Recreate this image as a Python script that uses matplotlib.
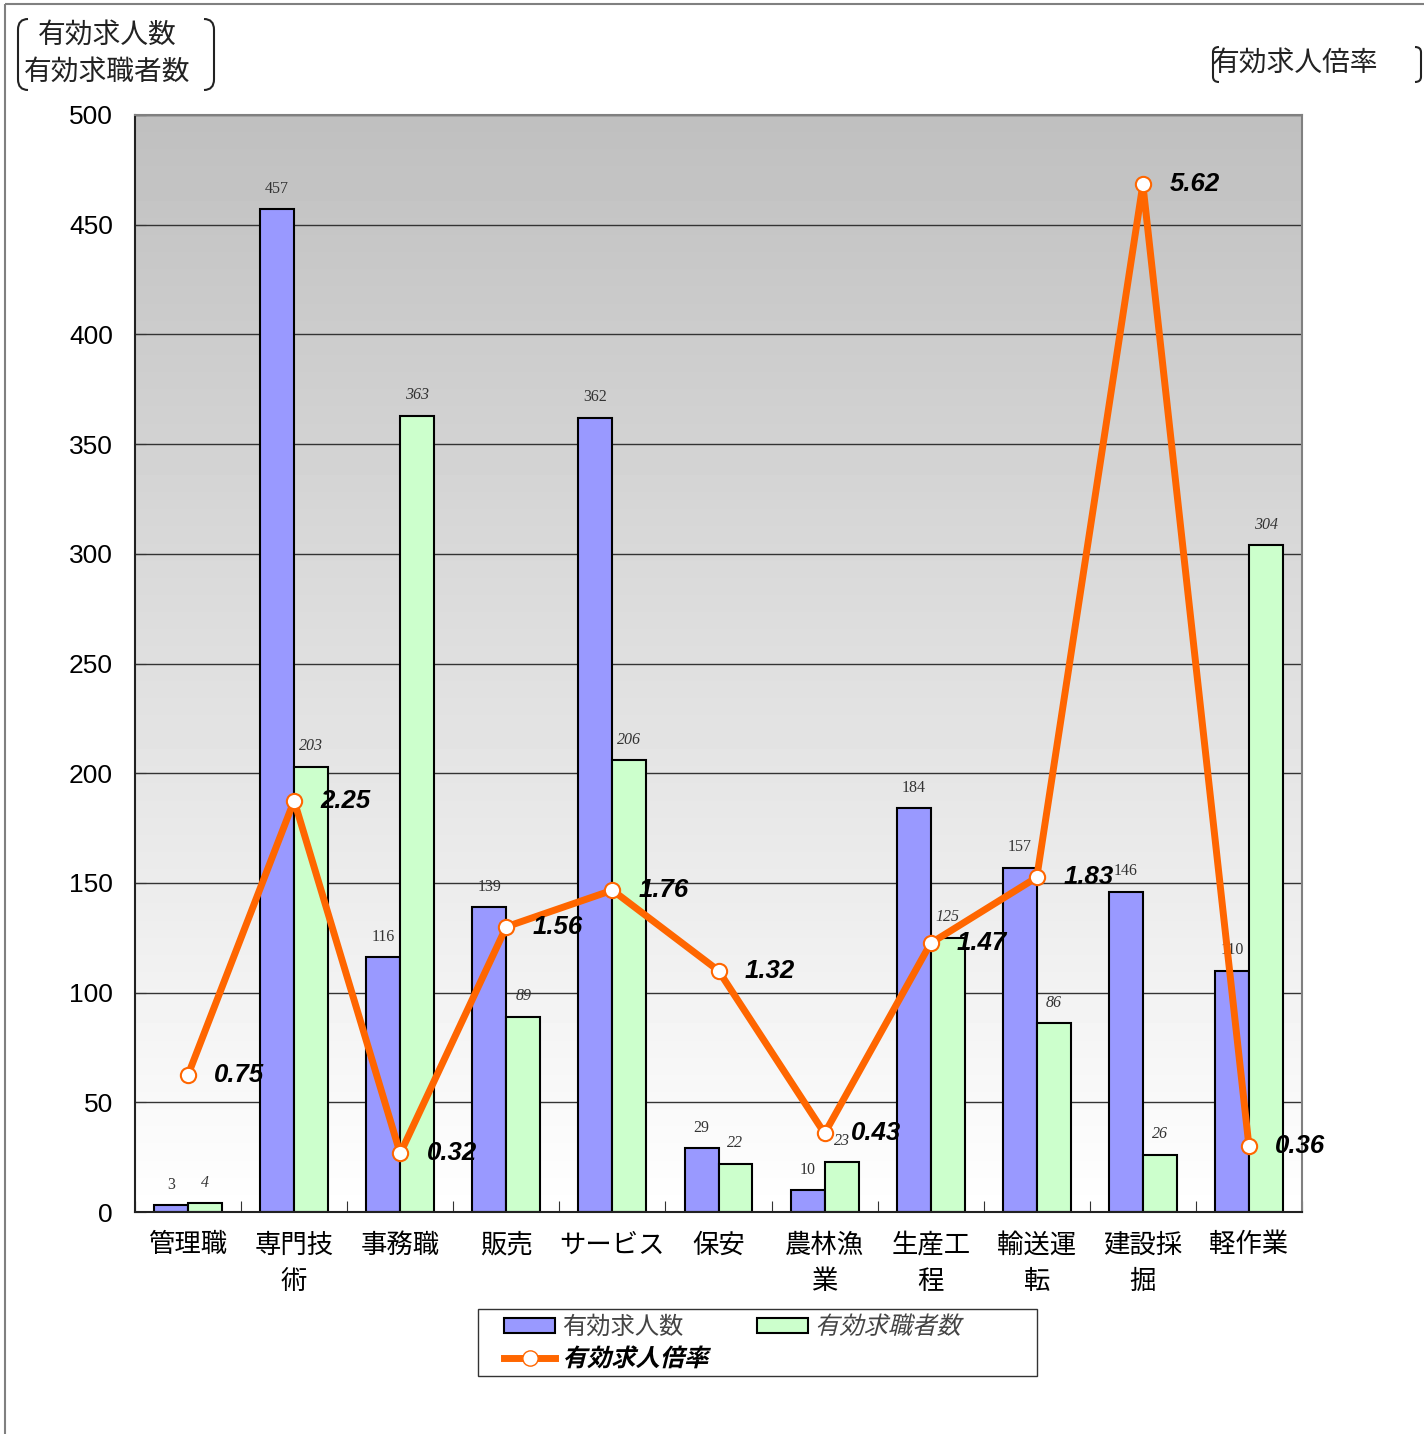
import numpy as np
import matplotlib
matplotlib.use("Agg")
import matplotlib.pyplot as plt
from matplotlib.patches import Patch, Rectangle, PathPatch
from matplotlib.lines import Line2D
from matplotlib.path import Path
from matplotlib.transforms import Affine2D
from matplotlib.patheffects import AbstractPathEffect

# data
categories = ["管理職", "専門技\n術", "事務職", "販売", "サービス", "保安",
              "農林漁\n業", "生産工\n程", "輸送運\n転", "建設採\n掘", "軽作業"]
job_offers = [3, 457, 116, 139, 362, 29, 10, 184, 157, 146, 110]
job_seekers = [4, 203, 363, 89, 206, 22, 23, 125, 86, 26, 304]
offer_ratio = [0.75, 2.25, 0.32, 1.56, 1.76, 1.32, 0.43, 1.47, 1.83, 5.62, 0.36]
y_ticks = [0, 50, 100, 150, 200, 250, 300, 350, 400, 450, 500]

JP = ["Noto Sans CJK JP", "DejaVu Sans"]
W, H = 1424, 1434


class Slant(AbstractPathEffect):
    """Fake italics for fonts without an oblique face (CJK)."""
    def __init__(self, deg=12):
        super().__init__()
        self.deg = deg

    def draw_path(self, renderer, gc, tpath, affine, rgbFace=None):
        x0, y0 = affine.transform((0, 0))
        skew = Affine2D().translate(-x0, -y0).skew_deg(self.deg, 0).translate(x0, y0)
        renderer.draw_path(gc, tpath, affine + skew, rgbFace)


fig = plt.figure(figsize=(W / 100, H / 100), dpi=100)
PIX = Affine2D().scale(1 / W, -1 / H).translate(0, 1) + fig.transFigure

ax = fig.add_axes([135 / W, 1 - 1212 / H, (1302 - 135) / W, (1212 - 115) / H])

# grey-to-white gradient for the plot area
grad = np.linspace(0.75, 1.0, 256).reshape(-1, 1)
ax.imshow(grad, cmap="gray", vmin=0, vmax=1, extent=[0, 1, 0, 1],
          transform=ax.transAxes, aspect="auto", zorder=0)

x = np.arange(len(categories))
bw = 0.32
ax.bar(x - bw / 2, job_offers, bw, color="#9999FF", edgecolor="black",
       linewidth=1.5, zorder=2)
ax.bar(x + bw / 2, job_seekers, bw, color="#CCFFCC", edgecolor="black",
       linewidth=1.5, zorder=2)

for xi, v in zip(x - bw / 2, job_offers):
    ax.annotate(str(v), (xi, v), xytext=(0, 9), textcoords="offset points",
                ha="center", va="bottom", fontsize=11.5, color="#333333",
                family="Liberation Serif")
for xi, v in zip(x + bw / 2, job_seekers):
    ax.annotate(str(v), (xi, v), xytext=(0, 9), textcoords="offset points",
                ha="center", va="bottom", fontsize=11.5, color="#333333",
                family="Liberation Serif", style="italic")

ax.set_xlim(-0.5, len(categories) - 0.5)
ax.set_ylim(0, 500)
ax.set_yticks(y_ticks)
ax.set_yticklabels([str(t) for t in y_ticks], family="Liberation Sans", fontsize=19)
ax.tick_params(axis="y", direction="in", length=8, color="#333333", pad=16)
ax.set_xticks(np.arange(-0.5, len(categories)), [""] * (len(categories) + 1))
ax.tick_params(axis="x", which="major", direction="in", length=8, color="#333333")
ax.set_xticks(x, categories, minor=True)
ax.tick_params(axis="x", which="minor", length=0, pad=14)
for t in ax.get_xticklabels(minor=True):
    t.set_family(JP)
    t.set_fontsize(19)
    t.set_linespacing(1.45)
    t.set_verticalalignment("top")
ax.yaxis.grid(True, color="#333333", linewidth=1)
ax.set_axisbelow(True)
for side in ("top", "right"):
    ax.spines[side].set_color("#808080")
    ax.spines[side].set_linewidth(1.5)
for side in ("left", "bottom"):
    ax.spines[side].set_color("#222222")
    ax.spines[side].set_linewidth(1.5)

# ratio line on a hidden secondary axis (0-6)
ax2 = ax.twinx()
ax2.set_ylim(0, 6)
ax2.set_yticks([])
for s in ax2.spines.values():
    s.set_visible(False)
ax2.plot(x, offer_ratio, color="#FF6600", linewidth=5, marker="o",
         markersize=11, markerfacecolor="white", markeredgecolor="#FF6600",
         markeredgewidth=1.5, zorder=3)
for xi, v in zip(x, offer_ratio):
    ax2.annotate(f"{v:.2f}", (xi, v), xytext=(19, 0), textcoords="offset points",
                 ha="left", va="center", fontsize=18.5, weight="bold",
                 style="italic", family="Liberation Sans", color="black")

# legend (frame drawn separately, it is wider than the entries)
handles = [
    Patch(facecolor="#9999FF", edgecolor="black", linewidth=1.5),
    Line2D([], [], color="#FF6600", linewidth=5, marker="o", markersize=11,
           markerfacecolor="white", markeredgecolor="#FF6600"),
    Patch(facecolor="#CCFFCC", edgecolor="black", linewidth=1.5),
]
labels = ["有効求人数", "有効求人倍率", "有効求職者数"]
leg = fig.legend(handles, labels, ncol=2, loc="center left",
                 bbox_to_anchor=(492 / W, 1 - 1342.5 / H),
                 prop={"family": JP, "size": 17.5}, frameon=False,
                 handlelength=2.1, handleheight=0.6, columnspacing=2.0,
                 labelspacing=0.3, borderpad=0.0, handletextpad=0.3)
lt = leg.get_texts()
lt[0].set_color("#444444")
lt[2].set_color("#444444")
lt[2].set_path_effects([Slant(14)])
lt[1].set_weight("bold")
lt[1].set_path_effects([Slant(14)])
fig.add_artist(Rectangle((478, 1309), 559, 67, fill=False, edgecolor="#333333",
                         linewidth=1, transform=PIX))

# axis titles with bracket marks
fig.text(107, 35, "有効求人数", transform=PIX, ha="center", va="center",
         family=JP, fontsize=20, color="#222222")
fig.text(107, 72, "有効求職者数", transform=PIX, ha="center", va="center",
         family=JP, fontsize=20, color="#222222")
fig.text(1295, 63, "有効求人倍率", transform=PIX, ha="center", va="center",
         family=JP, fontsize=20, color="#222222")


def bracket(x_out, x_in, y0, y1):
    r = (y1 - y0) * 0.15
    verts = [(x_in, y0), (x_out, y0), (x_out, y0 + r), (x_out, y1 - r),
             (x_out, y1), (x_in, y1)]
    codes = [Path.MOVETO, Path.CURVE3, Path.CURVE3, Path.LINETO,
             Path.CURVE3, Path.CURVE3]
    fig.add_artist(PathPatch(Path(verts, codes), fill=False, edgecolor="#222222",
                             linewidth=1.5, transform=PIX))


bracket(18, 28, 19, 90)
bracket(214, 204, 19, 90)
bracket(1213, 1219, 47, 82)
bracket(1421, 1415, 47, 82)

# outer chart border (only left/top edges visible in the reference)
fig.add_artist(Rectangle((5, 4), 1600, 1600, fill=False, edgecolor="#808080",
                         linewidth=1.5, transform=PIX))

fig.savefig("out.png", dpi=100)
